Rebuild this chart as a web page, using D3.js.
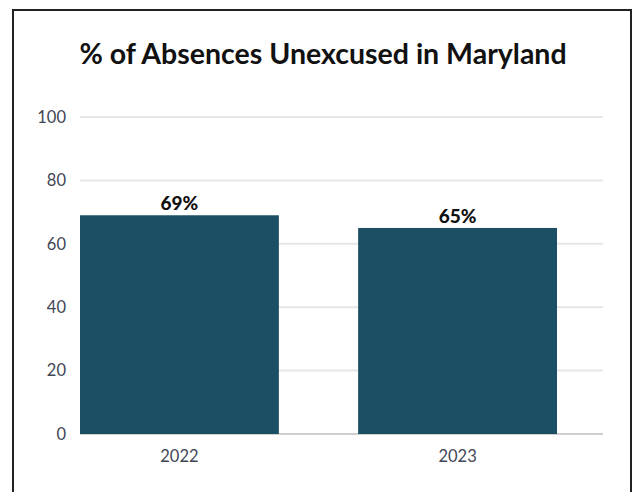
<!DOCTYPE html>
<html>
<head>
<meta charset="utf-8">
<script src="https://cdn.jsdelivr.net/npm/d3@7"></script>
<style>
  html, body { margin: 0; padding: 0; background: #fff; }
  svg { display: block; }
</style>
</head>
<body>
<svg id="chart" width="636" height="492"></svg>
<script>
// Share of absences that were unexcused, by school year
const years = ["2022", "2023"];
const unexcusedPct = [69, 65];
const yTicks = [0, 20, 40, 60, 80, 100];
const titleText = "% of Absences Unexcused in Maryland";

const svg = d3.select("#chart");
const fontFamily = "Lato, 'Open Sans', sans-serif";

// Outer frame
svg.append("rect")
  .attr("x", 13).attr("y", 10)
  .attr("width", 618).attr("height", 490)
  .attr("fill", "#fff")
  .attr("stroke", "#222").attr("stroke-width", 2);

const plotLeft = 80, plotRight = 603, plotTop = 117, plotBottom = 434;

const y = d3.scaleLinear().domain([0, 100]).range([plotBottom, plotTop]);
const x = d3.scaleBand().domain(years).range([80, 557]).paddingInner(0.285).paddingOuter(0);

// Title
svg.append("text")
  .attr("x", 323).attr("y", 64)
  .attr("text-anchor", "middle")
  .attr("font-family", fontFamily)
  .attr("font-weight", "bold")
  .attr("font-size", 28.5)
  .attr("fill", "#111")
  .text(titleText);

// Horizontal gridlines
svg.append("g").selectAll("line")
  .data(yTicks)
  .join("line")
  .attr("x1", plotLeft).attr("x2", plotRight)
  .attr("y1", d => y(d)).attr("y2", d => y(d))
  .attr("stroke", d => d === 0 ? "#cfcfcf" : "#e6e6e6")
  .attr("stroke-width", 2);

// Y axis labels
const yAxis = d3.axisLeft(y).tickValues(yTicks).tickSize(0).tickPadding(0);
const yg = svg.append("g").attr("transform", `translate(66,0)`).call(yAxis);
yg.select(".domain").remove();
yg.selectAll("text")
  .attr("font-family", fontFamily)
  .attr("font-size", 16.5)
  .attr("fill", "#3f4656");

// Bars
svg.append("g").selectAll("rect")
  .data(years)
  .join("rect")
  .attr("x", d => x(d))
  .attr("width", x.bandwidth())
  .attr("y", (d, i) => y(unexcusedPct[i]))
  .attr("height", (d, i) => y(0) - y(unexcusedPct[i]))
  .attr("fill", "#1b4f63");

// Value labels
svg.append("g").selectAll("text")
  .data(years)
  .join("text")
  .attr("x", d => x(d) + x.bandwidth() / 2)
  .attr("y", (d, i) => y(unexcusedPct[i]) - 5)
  .attr("text-anchor", "middle")
  .attr("font-family", fontFamily)
  .attr("font-weight", "900")
  .attr("font-size", 19)
  .attr("fill", "#111")
  .text((d, i) => unexcusedPct[i] + "%");

// X axis labels
const xAxis = d3.axisBottom(x).tickSize(0).tickPadding(0);
const xg = svg.append("g").attr("transform", `translate(0,${plotBottom + 28})`).call(xAxis);
xg.select(".domain").remove();
xg.selectAll("text")
  .attr("dy", 0)
  .attr("font-family", fontFamily)
  .attr("font-size", 16.5)
  .attr("fill", "#3f4656");
</script>
</body>
</html>
